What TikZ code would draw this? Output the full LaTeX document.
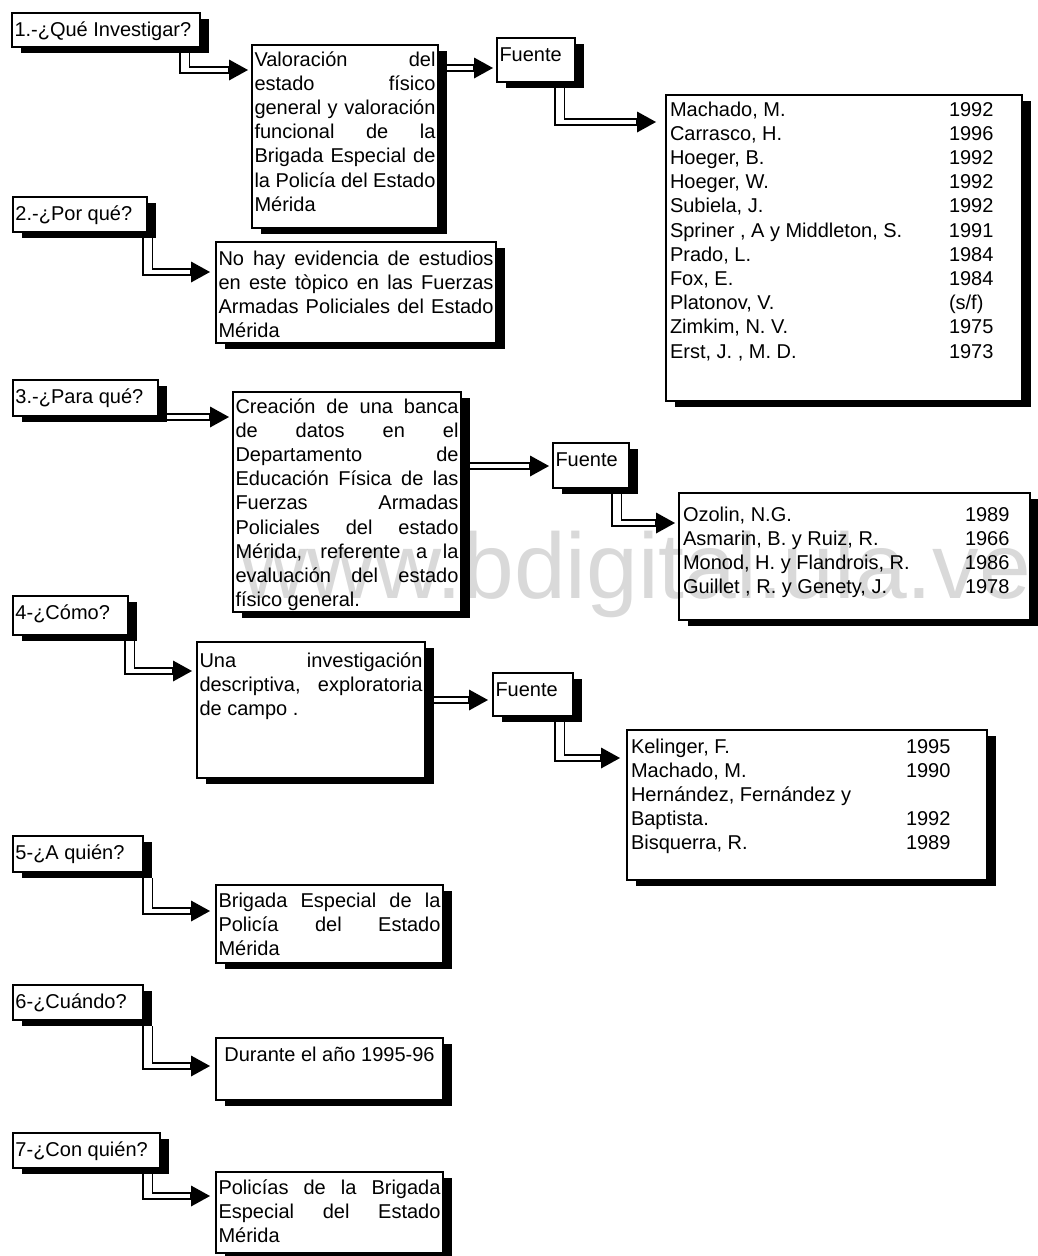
\documentclass[tikz,border=0pt]{standalone}
\usepackage{fontspec}
\setmainfont{Liberation Sans}
\usetikzlibrary{shadows,calc}
\newcommand{\BoxText}[4]{\parbox[c][#2][t]{#1}{\vspace*{\dimexpr #3-19.4pt\relax}\baselineskip=24.2pt\lineskiplimit=-100pt\relax #4}}
\newcommand{\JLine}[1]{\hbox to\hsize{\rule[-4.8pt]{0pt}{24.2pt}#1}}
\newcommand{\LLine}[1]{\hbox to\hsize{\rule[-4.8pt]{0pt}{24.2pt}#1\hfil}}
\newcommand{\CLine}[1]{\hbox to\hsize{\hfil\rule[-4.8pt]{0pt}{24.2pt}#1\hfil}}
\newcommand{\RefLine}[3]{\LLine{\hspace{1.5pt}\makebox[#1][l]{#2}#3}}
\newcommand{\LConn}[2]{%
 \draw[band] let \p1=#1, \p2=#2 in (\x1,\y1) -- (\x1,\y2-3pt) -- (\x2-19pt,\y2-3pt) -- (\x2-19pt,\y2+3pt) -- (\x1+9.5pt,\y2+3pt) -- (\x1+9.5pt,\y1);
 \fill[head] let \p2=#2 in (\x2,\y2) -- (\x2-19pt,\y2+10.5pt) -- (\x2-19pt,\y2-10.5pt) -- cycle;}
\newcommand{\HConn}[2]{%
 \draw[band] let \p1=#1, \p2=#2 in (\x1,\y2+3pt) -- (\x2-19pt,\y2+3pt) -- (\x2-19pt,\y2-3pt) -- (\x1,\y2-3pt);
 \fill[head] let \p2=#2 in (\x2,\y2) -- (\x2-19pt,\y2+10.5pt) -- (\x2-19pt,\y2-10.5pt) -- cycle;}
\begin{document}
\begin{tikzpicture}[x=1pt,y=-1pt,
  every node/.style={font=\fontsize{20}{24.2}\selectfont},
  sbox/.style={draw=black, line width=1.2pt, fill=white, inner xsep=2.5pt, inner ysep=0pt, outer sep=0pt, anchor=north west,
     drop shadow={shadow xshift=9pt, shadow yshift=-6pt, fill=black, opacity=1}},
  lbox/.style={sbox},
  band/.style={draw=black, line width=1.2pt, fill=white, line join=miter},
  head/.style={fill=black}]
\useasboundingbox (0,0) rectangle (1037,1256);
\fill[white] (0,0) rectangle (1037,1256);

% questions
\node[sbox] (q1) at (12,13) {\BoxText{183pt}{34pt}{23pt}{\LLine{1.-¿Qué Investigar?}}};
\node[sbox] (q2) at (13,197) {\BoxText{129pt}{35pt}{23pt}{\LLine{2.-¿Por qué?}}};
\node[sbox] (q3) at (13,380) {\BoxText{140pt}{36pt}{23pt}{\LLine{3.-¿Para qué?}}};
\node[sbox] (q4) at (13,596) {\BoxText{110pt}{39pt}{23pt}{\LLine{4-¿Cómo?}}};
\node[sbox] (q5) at (13,836) {\BoxText{125pt}{36pt}{23pt}{\LLine{5-¿A quién?}}};
\node[sbox] (q6) at (13,985) {\BoxText{125pt}{35pt}{23pt}{\LLine{6-¿Cuándo?}}};
\node[sbox] (q7) at (13,1133) {\BoxText{142pt}{35pt}{23pt}{\LLine{7-¿Con quién?}}};

% answers
\node[sbox] (a1) at (252,45) {\BoxText{181pt}{183pt}{21pt}{%
 \JLine{Valoración del}\JLine{estado físico}\JLine{general y valoración}\JLine{funcional de la}%
 \JLine{Brigada Especial de}\JLine{la Policía del Estado}\LLine{Mérida}}};
\node[sbox] (a2) at (216,242) {\BoxText{275pt}{101pt}{23pt}{%
 \JLine{No hay evidencia de estudios}\JLine{en este tòpico en las Fuerzas}\JLine{Armadas Policiales del Estado}\LLine{Mérida}}};
\node[sbox] (a3) at (233,392) {\BoxText{223pt}{220pt}{21pt}{%
 \JLine{Creación de una banca}\JLine{de datos en el}\JLine{Departamento de}\JLine{Educación Física de las}%
 \JLine{Fuerzas Armadas}\JLine{Policiales del estado}\JLine{Mérida, referente a la}\JLine{evaluación del estado}%
 \LLine{físico general.}}};
\node[sbox] (a4) at (197,642) {\BoxText{223pt}{136pt}{25pt}{%
 \JLine{Una investigación}\JLine{descriptiva, exploratoria}\LLine{de campo .}}};
\node[sbox] (a5) at (216,885) {\BoxText{222pt}{78pt}{22pt}{%
 \JLine{Brigada Especial de la}\JLine{Policía del Estado}\LLine{Mérida}}};
\node[sbox] (a6) at (216,1038) {\BoxText{222pt}{62pt}{23pt}{\CLine{Durante el año 1995-96}}};
\node[sbox] (a7) at (216,1172) {\BoxText{222pt}{81pt}{22pt}{%
 \JLine{Policías de la Brigada}\JLine{Especial del Estado}\LLine{Mérida}}};

% fuente
\node[sbox] (f1) at (497,38) {\BoxText{73pt}{44pt}{23pt}{\LLine{Fuente}}};
\node[sbox] (f2) at (553,443) {\BoxText{71pt}{45pt}{23pt}{\LLine{Fuente}}};
\node[sbox] (f3) at (493,673) {\BoxText{75pt}{43pt}{23pt}{\LLine{Fuente}}};

% reference lists
\node[lbox] (l1) at (666,95) {\BoxText{351pt}{306pt}{21pt}{%
 \RefLine{279pt}{Machado, M.}{1992}\RefLine{279pt}{Carrasco, H.}{1996}\RefLine{279pt}{Hoeger, B.}{1992}%
 \RefLine{279pt}{Hoeger, W.}{1992}\RefLine{279pt}{Subiela, J.}{1992}\RefLine{279pt}{Spriner , A y Middleton, S.}{1991}%
 \RefLine{279pt}{Prado, L.}{1984}\RefLine{279pt}{Fox, E.}{1984}\RefLine{279pt}{Platonov, V.}{(s/f)}%
 \RefLine{279pt}{Zimkim, N. V.}{1975}\RefLine{279pt}{Erst, J. , M. D.}{1973}}};
\node[lbox] (l2) at (679,493) {\BoxText{346pt}{127pt}{28pt}{%
 \RefLine{282pt}{Ozolin, N.G.}{1989}\RefLine{282pt}{Asmarin, B. y Ruiz, R.}{1966}%
 \RefLine{282pt}{Monod, H. y Flandrois, R.}{1986}\RefLine{282pt}{Guillet , R. y Genety, J.}{1978}}};
\node[lbox] (l3) at (627,730) {\BoxText{355pt}{150pt}{23pt}{%
 \RefLine{275pt}{Kelinger, F.}{1995}\RefLine{275pt}{Machado, M.}{1990}\RefLine{275pt}{Hernández, Fernández y}{}%
 \RefLine{275pt}{Baptista.}{1992}\RefLine{275pt}{Bisquerra, R.}{1989}}};

% connectors
\LConn{($(q1.south west)+(168,6)$)}{($(a1.north west)+(-4,25)$)}
\LConn{($(q2.south west)+(130,6)$)}{($(a2.north west)+(-6,30)$)}
\HConn{($(q3.south east)+(9,0)$)}{($(a3.north west)+(-4,25)$)}
\LConn{($(q4.south west)+(112,6)$)}{($(a4.north west)+(-5,29)$)}
\LConn{($(q5.south west)+(130,6)$)}{($(a5.north west)+(-6,26)$)}
\LConn{($(q6.south west)+(130,6)$)}{($(a6.north west)+(-6,28)$)}
\LConn{($(q7.south west)+(130,6)$)}{($(a7.north west)+(-6,24)$)}
\HConn{($(a1.north east)+(9,0)$)}{($(f1.north west)+(-4,30)$)}
\HConn{($(a3.north east)+(9,0)$)}{($(f2.north west)+(-4,23)$)}
\HConn{($(a4.north east)+(9,0)$)}{($(f3.north west)+(-5,27)$)}
\LConn{($(f1.south west)+(58,6)$)}{($(l1.north west)+(-10,27)$)}
\LConn{($(f2.south west)+(59,6)$)}{($(l2.north west)+(-4,30)$)}
\LConn{($(f3.south west)+(62,6)$)}{($(l3.north west)+(-7,28)$)}

% watermark
\node[anchor=base west, inner sep=0pt, font=\fontsize{93}{93}\selectfont, text=black, text opacity=0.15] (wm) at (240,598) {www.bdigital.ula.ve};
\end{tikzpicture}
\end{document}
